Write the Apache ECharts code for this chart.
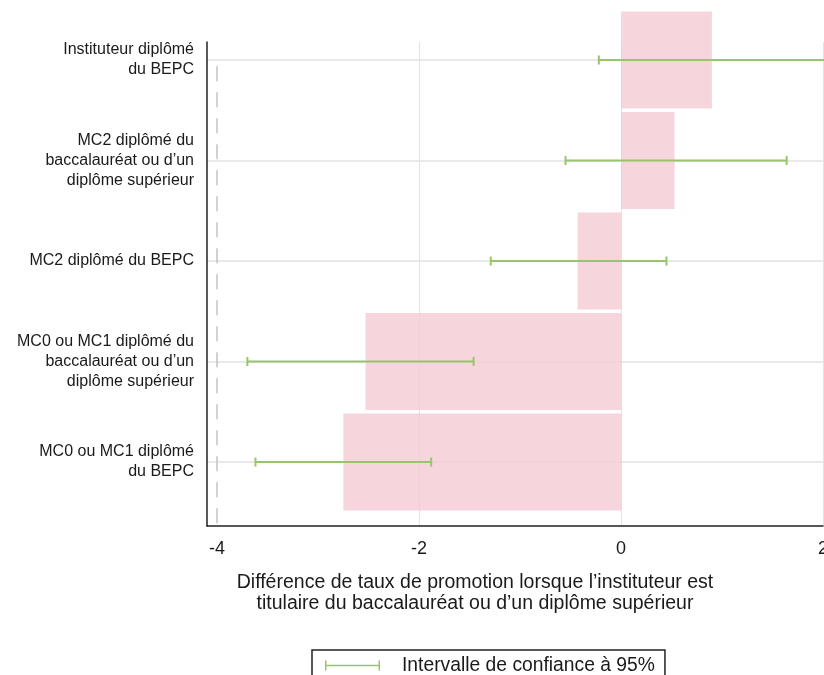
<!DOCTYPE html>
<html>
<head>
<meta charset="utf-8">
<script src="https://cdn.jsdelivr.net/npm/echarts@6/dist/echarts.min.js"></script>
<style>
  html, body { margin: 0; padding: 0; background: #fff; }
  #chart { width: 824px; height: 675px; }
</style>
</head>
<body>
<div id="chart"></div>
<script>
// catégories, du haut vers le bas
const categories = [
  "Instituteur diplômé\ndu BEPC",
  "MC2 diplômé du\nbaccalauréat ou d’un\ndiplôme supérieur",
  "MC2 diplômé du BEPC",
  "MC0 ou MC1 diplômé du\nbaccalauréat ou d’un\ndiplôme supérieur",
  "MC0 ou MC1 diplômé\ndu BEPC",
];
const diffValues = [0.9, 0.53, -0.43, -2.53, -2.75];
const ciLow = [-0.22, -0.55, -1.29, -3.7, -3.62];
const ciHigh = [2.15, 1.64, 0.45, -1.46, -1.88];
const xTicks = [-4, -2, 0, 2];

const ciName = "Intervalle de confiance à 95%";
const font = "Liberation Sans";
const pink = "rgba(244, 204, 211, 0.8)";
const green = "#98c46c";

let myChart = echarts.init(document.getElementById("chart"));

const ciData = categories.map((c, i) => [i, ciLow[i], ciHigh[i]]);

let option = {
  animation: false,
  textStyle: { fontFamily: font },
  grid: [
    // données
    { left: 207, right: 1, top: 60, bottom: 213, outerBoundsMode: "none", containLabel: false },
    // axes
    { left: 207, right: 1, top: 42, bottom: 149, outerBoundsMode: "none", containLabel: false },
  ],
  xAxis: [
    {
      gridIndex: 0,
      type: "value",
      min: -4.1,
      max: 2,
      show: false,
      splitLine: { show: false },
    },
    {
      gridIndex: 1,
      type: "value",
      min: -4.1,
      max: 2,
      axisLine: { show: true, onZero: false, lineStyle: { color: "#222", width: 1.5 } },
      axisTick: { show: false, customValues: [-2, 0, 2] },
      axisLabel: {
        customValues: xTicks,
        color: "#1a1a1a",
        fontSize: 18,
        margin: 14,
        showMaxLabel: true,
      },
      splitLine: { show: true, lineStyle: { color: "#e4e4e4", width: 1.2 } },
      name: "Différence de taux de promotion lorsque l’instituteur est\ntitulaire du baccalauréat ou d’un diplôme supérieur",
      nameLocation: "middle",
      nameGap: 46,
      nameTextStyle: {
        color: "#1a1a1a",
        fontSize: 19.5,
        lineHeight: 21,
        padding: [0, 80, 0, 0],
      },
    },
  ],
  yAxis: [
    {
      gridIndex: 0,
      type: "category",
      data: categories,
      inverse: true,
      boundaryGap: false,
      axisLine: { show: false },
      axisTick: { show: false },
      axisLabel: {
        color: "#1a1a1a",
        fontSize: 16,
        lineHeight: 20,
        margin: 13,
        align: "right",
      },
      splitLine: { show: true, lineStyle: { color: "#e2e2e2", width: 1.5 } },
    },
    {
      gridIndex: 1,
      type: "value",
      min: 0,
      max: 1,
      axisLine: { show: true, onZero: false, lineStyle: { color: "#222", width: 1.5 } },
      axisTick: { show: false },
      axisLabel: { show: false },
      splitLine: { show: false },
    },
  ],
  legend: {
    data: [
      {
        name: ciName,
        icon: "path://M0,0h1.5v4.3h52v-4.3h1.5v10h-1.5v-4.3h-52v4.3h-1.5z",
      },
    ],
    left: 312,
    top: 650,
    itemWidth: 55,
    itemHeight: 10,
    padding: [6, 10, 12, 13],
    borderColor: "#222",
    borderWidth: 1.5,
    borderRadius: 0,
    textStyle: {
      color: "#1a1a1a",
      fontSize: 19.3,
      padding: [0, 0, 0, 17],
    },
  },
  series: [
    {
      type: "bar",
      xAxisIndex: 0,
      yAxisIndex: 0,
      data: diffValues,
      barWidth: 97,
      clip: false,
      itemStyle: { color: pink },
      z: 1,
    },
    {
      // ligne de référence pointillée à -4
      type: "line",
      xAxisIndex: 1,
      yAxisIndex: 1,
      data: [[-4, 0.5]],
      symbol: "none",
      lineStyle: { opacity: 0 },
      silent: true,
      markLine: {
        silent: true,
        symbol: "none",
        label: { show: false },
        lineStyle: { color: "#c4c4c4", type: [15, 11], width: 1.5 },
        data: [[{ coord: [-4, 0.95] }, { coord: [-4, 0] }]],
      },
    },
    {
      name: ciName,
      type: "custom",
      xAxisIndex: 0,
      yAxisIndex: 0,
      data: ciData,
      itemStyle: { color: green },
      z: 5,
      renderItem: function (params, api) {
        const cat = api.value(0);
        const p1 = api.coord([api.value(1), cat]);
        const p2 = api.coord([api.value(2), cat]);
        const h = 4.5;
        const style = { stroke: green, lineWidth: 2, fill: null };
        return {
          type: "group",
          children: [
            { type: "line", shape: { x1: p1[0], y1: p1[1], x2: p2[0], y2: p2[1] }, style: style },
            { type: "line", shape: { x1: p1[0], y1: p1[1] - h, x2: p1[0], y2: p1[1] + h }, style: style },
            { type: "line", shape: { x1: p2[0], y1: p2[1] - h, x2: p2[0], y2: p2[1] + h }, style: style },
          ],
        };
      },
    },
  ],
};
myChart.setOption(option);
</script>
</body>
</html>
